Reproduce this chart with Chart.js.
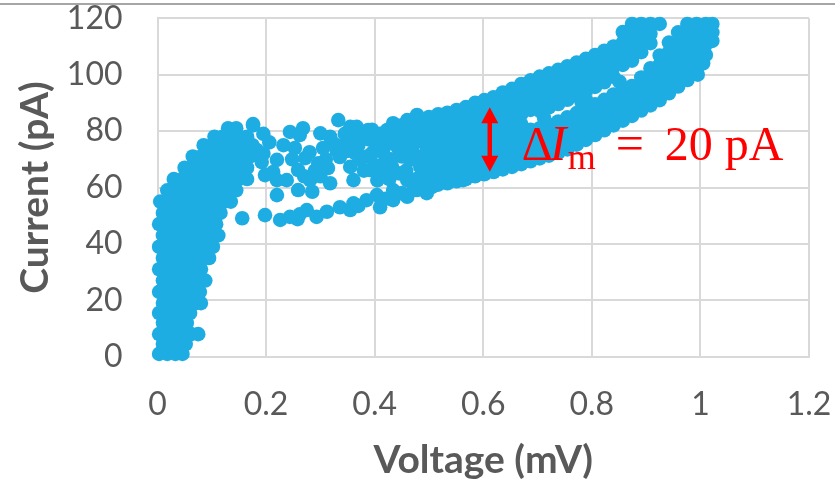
<!DOCTYPE html>
<html>
<head>
<meta charset="utf-8">
<script src="https://cdn.jsdelivr.net/npm/chart.js@4.4.1/dist/chart.umd.min.js"></script>
<style>
  html, body { margin: 0; padding: 0; background: #fff; }
</style>
</head>
<body>
<canvas id="graficoIV" width="835" height="486"></canvas>
<script>
// Eixos
const voltageTicks = [0, 0.2, 0.4, 0.6, 0.8, 1, 1.2];
const currentTicks = [0, 20, 40, 60, 80, 100, 120];

// Subida inicial perto de 0 mV: [tensão (mV), corrente (pA)]
const riseBlob = [
    [0.003, 1], [0.018, 1], [0.033, 1], [0.046, 1],
    [0.01, 4.5], [0.025, 4.5], [0.04, 4.5], [0.052, 4.5],
    [0.003, 8], [0.018, 8], [0.033, 8], [0.048, 8], [0.062, 8], [0.075, 8],
    [0.01, 12], [0.025, 12], [0.04, 12], [0.054, 12],
    [0.003, 15.5], [0.018, 15.5], [0.033, 15.5], [0.048, 15.5], [0.06, 15.5],
    [0.01, 19], [0.025, 19], [0.04, 19], [0.055, 19], [0.07, 19], [0.08, 19],
    [0.003, 23], [0.018, 23], [0.033, 23], [0.048, 23], [0.063, 23], [0.078, 23],
    [0.01, 27], [0.025, 27], [0.04, 27], [0.055, 27], [0.07, 27], [0.088, 27],
    [0.003, 31], [0.018, 31], [0.033, 31], [0.048, 31], [0.063, 31], [0.08, 31],
    [0.01, 35], [0.025, 35], [0.04, 35], [0.055, 35], [0.07, 35], [0.085, 35], [0.095, 35],
    [0.003, 39], [0.018, 39], [0.033, 39], [0.048, 39], [0.063, 39], [0.078, 39], [0.093, 39], [0.102, 39],
    [0.01, 43], [0.025, 43], [0.04, 43], [0.055, 43], [0.07, 43], [0.085, 43], [0.1, 43], [0.112, 43],
    [0.003, 47], [0.018, 47], [0.033, 47], [0.048, 47], [0.063, 47], [0.078, 47], [0.093, 47], [0.108, 47],
    [0.01, 51], [0.025, 51], [0.04, 51], [0.055, 51], [0.07, 51], [0.085, 51], [0.1, 51], [0.116, 51],
    [0.005, 55], [0.018, 55], [0.033, 55], [0.048, 55], [0.063, 55], [0.078, 55], [0.093, 55], [0.108, 55], [0.123, 55], [0.135, 55],
    [0.018, 59], [0.03, 59], [0.045, 59], [0.06, 59], [0.075, 59], [0.09, 59], [0.105, 59], [0.12, 59], [0.135, 59], [0.145, 59],
    [0.03, 63], [0.045, 63], [0.06, 63], [0.075, 63], [0.09, 63], [0.105, 63], [0.12, 63], [0.135, 63], [0.15, 63], [0.165, 63],
    [0.05, 67], [0.065, 67], [0.08, 67], [0.095, 67], [0.11, 67], [0.125, 67], [0.14, 67], [0.155, 67], [0.165, 67],
    [0.065, 71], [0.08, 71], [0.095, 71], [0.11, 71], [0.125, 71], [0.14, 71], [0.155, 71], [0.17, 71],
    [0.085, 75], [0.1, 75], [0.115, 75], [0.13, 75], [0.145, 75], [0.16, 75], [0.175, 75],
    [0.105, 78], [0.12, 78], [0.135, 78], [0.15, 78], [0.165, 78],
    [0.13, 81], [0.145, 81], [0.176, 82], [0.195, 79]
];

// Pontos espalhados na região intermediária
const scatterMid = [
    [0.158, 63.7], [0.165, 77.5], [0.176, 82.5], [0.183, 73.3], [0.192, 69], [0.195, 72],
    [0.198, 64.4], [0.206, 76], [0.213, 65.5], [0.22, 69.8], [0.22, 62.6], [0.22, 57.3],
    [0.232, 75], [0.238, 62.6], [0.244, 79.7], [0.248, 70], [0.253, 74], [0.259, 66.2],
    [0.259, 59.1], [0.262, 78.6], [0.268, 81], [0.27, 64], [0.272, 70.4], [0.28, 72.5],
    [0.281, 62.6], [0.285, 58.5], [0.29, 66], [0.296, 68.6], [0.3, 79.2], [0.3, 64],
    [0.305, 74], [0.31, 70], [0.314, 66.9], [0.318, 61.5], [0.318, 78], [0.324, 75.7],
    [0.33, 73], [0.333, 83.9], [0.336, 70.8], [0.342, 75], [0.345, 79], [0.35, 73],
    [0.355, 67.3], [0.355, 81.5], [0.36, 77], [0.361, 62.6], [0.365, 72], [0.367, 81.5],
    [0.37, 75], [0.373, 69.8], [0.378, 78], [0.38, 66], [0.385, 71], [0.388, 80.4],
    [0.39, 77], [0.391, 66.2], [0.395, 72.2], [0.395, 80.5], [0.4, 68], [0.4, 73],
    [0.404, 76.8], [0.405, 62.5], [0.41, 65], [0.41, 79], [0.415, 68], [0.416, 72.2],
    [0.42, 75], [0.423, 80.4], [0.425, 77], [0.427, 63], [0.43, 70], [0.432, 67.3],
    [0.434, 82.8], [0.434, 59.1], [0.44, 77], [0.44, 80], [0.443, 74], [0.445, 65],
    [0.448, 82], [0.45, 71], [0.452, 78], [0.455, 75], [0.458, 66], [0.46, 83.9],
    [0.46, 62.6], [0.463, 79], [0.465, 69.8], [0.468, 81.5], [0.47, 73], [0.471, 59.1],
    [0.475, 76], [0.477, 63], [0.478, 85.7], [0.48, 78], [0.484, 67.3], [0.486, 82.5],
    [0.488, 71], [0.49, 80], [0.492, 84], [0.495, 64], [0.496, 74.4], [0.502, 82.8],
    [0.506, 60.2], [0.508, 69.8], [0.52, 67.3]
];

// Ramo inferior (tensão crescente) após o joelho
const lowerChain = [
    [0.156, 49.1], [0.198, 50.2], [0.226, 48.5], [0.244, 49.6], [0.258, 48.8], [0.262, 50.5],
    [0.275, 52], [0.293, 49.6], [0.312, 51.4], [0.336, 53], [0.355, 52], [0.361, 54.4],
    [0.37, 53.5], [0.385, 55.5], [0.404, 57.3], [0.41, 53], [0.42, 56], [0.434, 55.5],
    [0.45, 58], [0.46, 56.7], [0.478, 59.1], [0.49, 61], [0.496, 58], [0.533, 62.6],
    [0.563, 62.6], [0.594, 65]
];

// Faixa superior (retorno)
const upperBand = [
    [0.5, 85], [0.5, 81.5], [0.5, 78], [0.5, 74.5],
    [0.517, 86], [0.517, 82.5], [0.517, 79], [0.517, 75],
    [0.534, 86.5], [0.534, 83], [0.534, 79.5], [0.534, 76],
    [0.551, 87.5], [0.551, 84], [0.551, 80.5], [0.551, 76.5],
    [0.568, 88.5], [0.568, 85], [0.568, 81.5], [0.568, 77.5],
    [0.585, 90], [0.585, 86], [0.585, 82.5], [0.585, 78.5],
    [0.602, 91], [0.602, 87], [0.602, 83.5], [0.602, 79.5],
    [0.619, 92], [0.619, 89], [0.619, 85.5], [0.619, 82], [0.619, 79],
    [0.636, 93.7], [0.636, 90.3], [0.636, 87], [0.636, 83.5], [0.636, 80],
    [0.653, 95], [0.653, 91.7], [0.653, 88], [0.653, 84.5], [0.653, 81],
    [0.67, 96.7], [0.67, 93], [0.67, 89.5], [0.67, 86], [0.67, 82.5],
    [0.687, 98], [0.687, 94.5], [0.687, 91], [0.687, 87.5],
    [0.704, 99.3], [0.704, 96.3], [0.704, 93.3], [0.704, 90.2], [0.704, 87.2],
    [0.712, 84.7],
    [0.721, 100.5], [0.721, 97.5], [0.721, 94.5], [0.721, 91.4], [0.721, 88.4],
    [0.738, 101.7], [0.738, 98.7], [0.738, 95.7], [0.738, 92.6], [0.738, 89.6],
    [0.755, 103], [0.755, 100], [0.755, 97], [0.755, 94], [0.755, 91.1],
    [0.772, 104.3], [0.772, 101.4], [0.772, 98.5], [0.772, 95.5], [0.772, 92.6],
    [0.781, 90.3],
    [0.789, 105.6], [0.789, 102.8], [0.789, 99.9], [0.789, 97], [0.789, 94.2], [0.789, 91.1],
    [0.806, 107], [0.806, 104.2], [0.806, 101.4], [0.806, 98.5], [0.806, 95.7],
    [0.823, 108.5], [0.823, 105.7], [0.823, 102.9], [0.823, 100.1], [0.823, 97.3],
    [0.84, 110], [0.84, 106.4], [0.84, 102.8], [0.84, 99.2],
    [0.851, 97.5],
    [0.857, 115.1], [0.857, 111.4], [0.857, 107.7], [0.857, 103.5],
    [0.874, 118], [0.874, 114.5], [0.874, 111], [0.874, 107.5], [0.874, 105],
    [0.891, 118], [0.891, 114.5], [0.891, 111], [0.891, 108],
    [0.908, 118], [0.908, 114.5], [0.908, 111.2],
    [0.925, 118]
];

// Faixa inferior (subida até 1 mV)
const lowerBand = [
    [0.5, 71], [0.5, 67.5], [0.5, 64], [0.5, 60.5],
    [0.517, 71.5], [0.517, 68], [0.517, 64.5], [0.517, 61],
    [0.534, 72.5], [0.534, 68.5], [0.534, 65], [0.534, 61.5],
    [0.551, 73], [0.551, 69.5], [0.551, 66], [0.551, 62.2],
    [0.568, 74], [0.568, 70.5], [0.568, 66.5], [0.568, 63],
    [0.585, 75], [0.585, 71], [0.585, 67.5], [0.585, 64],
    [0.602, 76], [0.602, 72], [0.602, 68.5], [0.602, 64.7],
    [0.619, 75.5], [0.619, 72], [0.619, 69], [0.619, 65.5],
    [0.636, 76.7], [0.636, 73.3], [0.636, 70], [0.636, 66.4],
    [0.653, 77.5], [0.653, 74], [0.653, 70.5], [0.653, 67.3],
    [0.67, 79], [0.67, 75.5], [0.67, 72], [0.67, 68.3],
    [0.687, 80.5], [0.687, 76.8], [0.687, 73], [0.687, 69.3],
    [0.704, 81], [0.704, 77.4], [0.704, 73.8], [0.704, 70.3],
    [0.721, 82.2], [0.721, 78.6], [0.721, 75], [0.721, 71.3],
    [0.738, 83.4], [0.738, 79.7], [0.738, 76], [0.738, 72.3],
    [0.755, 84.9], [0.755, 82], [0.755, 79.2], [0.755, 76.3], [0.755, 73.5],
    [0.772, 86.4], [0.772, 82.7], [0.772, 78.9], [0.772, 75.2],
    [0.789, 88], [0.789, 84.3], [0.789, 80.6], [0.789, 76.9],
    [0.806, 89.5], [0.806, 85.9], [0.806, 82.2], [0.806, 78.6],
    [0.823, 91.1], [0.823, 87.5], [0.823, 83.9], [0.823, 80.3],
    [0.84, 93], [0.84, 89.3], [0.84, 85.7], [0.84, 82],
    [0.857, 93.5], [0.857, 90], [0.857, 86.8], [0.857, 83.7],
    [0.874, 96], [0.874, 93.3], [0.874, 90.7], [0.874, 88], [0.874, 85.4],
    [0.891, 99], [0.891, 96], [0.891, 93], [0.891, 90], [0.891, 87.3],
    [0.908, 102.3], [0.908, 99], [0.908, 95.8], [0.908, 92.5], [0.908, 89.1],
    [0.925, 106.8], [0.925, 103.6], [0.925, 100.4], [0.925, 97.2], [0.925, 94], [0.925, 91],
    [0.942, 111.4], [0.942, 108], [0.942, 104.6], [0.942, 100.8], [0.942, 97], [0.942, 93.4],
    [0.959, 115], [0.959, 111.8], [0.959, 108.6], [0.959, 105.4], [0.959, 102.2], [0.959, 99], [0.959, 95.8],
    [0.976, 118], [0.976, 114.7], [0.976, 111.4], [0.976, 108], [0.976, 104.7], [0.976, 101.4], [0.976, 98.1],
    [0.993, 118], [0.993, 114.7], [0.993, 111.4], [0.993, 108.2], [0.993, 104.9], [0.993, 101.6],
    [0.995, 100], [1.005, 104],
    [1.01, 118], [1.01, 114.3], [1.01, 110.7], [1.01, 107],
    [1.022, 118], [1.022, 115], [1.022, 112]
];

// Seta da histerese
const arrowVoltage = 0.612;
const deltaLow = 67;
const deltaCurrent = 20;

const corPontos = "#1eade3";
const corTexto = "#595959";
const corGrade = "#d9d9d9";

const toXY = pares => pares.map(p => ({ x: p[0], y: p[1] }));

const serie = (dados) => ({
    data: toXY(dados),
    backgroundColor: corPontos,
    borderWidth: 0,
    pointRadius: 7.3,
    pointHoverRadius: 7.3,
    clip: false
});

// Seta dupla vermelha + rótulo ΔIm
const notaDelta = {
    id: "notaDelta",
    afterDatasetsDraw(chart) {
        const { ctx, scales: { x, y } } = chart;
        const ax = x.getPixelForValue(arrowVoltage);
        const yTop = y.getPixelForValue(deltaLow + deltaCurrent);
        const yBot = y.getPixelForValue(deltaLow);
        ctx.save();
        ctx.fillStyle = "#ff0000";
        ctx.strokeStyle = "#ff0000";
        ctx.lineWidth = 4.5;
        ctx.beginPath();
        ctx.moveTo(ax, yTop + 8);
        ctx.lineTo(ax, yBot - 8);
        ctx.stroke();
        [[yTop - 4, 1], [yBot + 4, -1]].forEach(([ponta, dir]) => {
            ctx.beginPath();
            ctx.moveTo(ax, ponta);
            ctx.lineTo(ax - 8.5, ponta + dir * 16);
            ctx.lineTo(ax + 8.5, ponta + dir * 16);
            ctx.closePath();
            ctx.fill();
        });

        const base = (yTop + yBot) / 2 + 20.5;
        ctx.textAlign = "left";
        ctx.textBaseline = "alphabetic";
        ctx.font = '48px "Liberation Serif"';
        ctx.fillText("Δ", ax + 32, base);
        ctx.font = 'italic 50px "Liberation Serif"';
        ctx.fillText("I", ax + 60, base);
        ctx.font = '36px "Liberation Serif"';
        ctx.fillText("m", ax + 78, base + 9);
        ctx.font = '50px "Liberation Serif"';
        ctx.fillText("=", ax + 126, base);
        ctx.font = '48px "Liberation Serif"';
        ctx.fillText(deltaCurrent + " pA", ax + 175, base);
        ctx.restore();
    },
    afterDraw(chart) {
        // linha cinza no topo
        const ctx = chart.ctx;
        ctx.save();
        ctx.fillStyle = "#a6a6a6";
        ctx.fillRect(0, 3, chart.width, 2);
        ctx.restore();
    }
};

const ctx = document.getElementById("graficoIV").getContext("2d");

new Chart(ctx, {
    type: "scatter",
    data: {
        datasets: [
            serie(riseBlob),
            serie(scatterMid),
            serie(lowerChain),
            serie(upperBand),
            serie(lowerBand)
        ]
    },
    options: {
        responsive: false,
        animation: false,
        devicePixelRatio: 1,
        layout: { padding: { top: 18.3, right: 26, left: 0, bottom: 0 } },
        plugins: {
            legend: { display: false },
            tooltip: { enabled: false }
        },
        scales: {
            x: {
                type: "linear",
                min: 0,
                max: 1.2,
                afterBuildTicks: s => { s.ticks = voltageTicks.map(v => ({ value: v })); },
                afterFit: s => {
                    s.height = 129.3;
                    s.paddingLeft = 0;
                    s.paddingRight = 0;
                },
                ticks: {
                    callback: v => String(v),
                    color: corTexto,
                    padding: 29,
                    maxRotation: 0,
                    font: { family: "Lato", size: 32, lineHeight: 1.2 }
                },
                grid: { color: corGrade, lineWidth: 2, drawTicks: false },
                border: { color: corGrade, width: 2 },
                title: {
                    display: true,
                    text: "Voltage (mV)",
                    color: corTexto,
                    padding: { top: 0, bottom: 2 },
                    font: { family: "Lato", size: 39, weight: "bold", lineHeight: 1.2 }
                }
            },
            y: {
                type: "linear",
                min: 0,
                max: 120,
                afterBuildTicks: s => { s.ticks = currentTicks.map(v => ({ value: v })); },
                afterFit: s => {
                    s.width = 157.5;
                    s.paddingTop = 0;
                    s.paddingBottom = 0;
                },
                ticks: {
                    callback: v => String(v),
                    color: corTexto,
                    padding: 35,
                    font: { family: "Lato", size: 32, lineHeight: 1 }
                },
                grid: { color: corGrade, lineWidth: 2, drawTicks: false },
                border: { color: corGrade, width: 2 },
                title: {
                    display: true,
                    text: "Current (pA)",
                    color: corTexto,
                    padding: { top: 12, bottom: 0 },
                    font: { family: "Lato", size: 39, weight: "bold", lineHeight: 1.2 }
                }
            }
        }
    },
    plugins: [notaDelta]
});
</script>
</body>
</html>
